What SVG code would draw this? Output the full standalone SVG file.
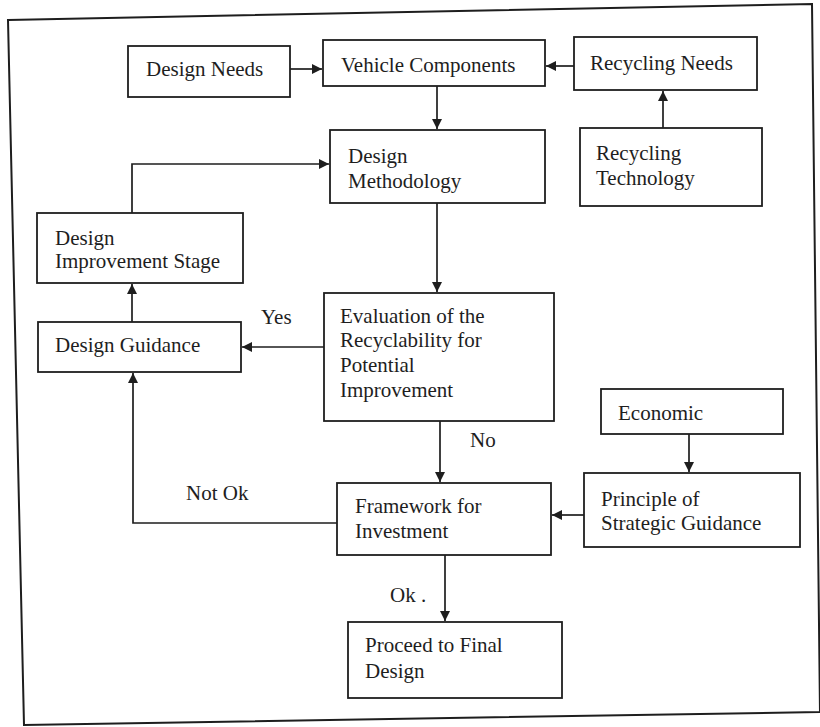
<svg xmlns="http://www.w3.org/2000/svg" width="820" height="727" viewBox="0 0 820 727">
<style>
.box{fill:#fff;stroke:#1e1e1e;stroke-width:1.8}
.t{font-family:"Liberation Serif","Times New Roman",serif;font-size:21px;fill:#1e1e1e}
.c{fill:none;stroke:#1e1e1e;stroke-width:1.7}
.frame{fill:none;stroke:#1e1e1e;stroke-width:2}
</style>
<defs>
<marker id="ah" viewBox="0 0 10 10" refX="10" refY="5" markerWidth="11" markerHeight="10" markerUnits="userSpaceOnUse" orient="auto">
<path d="M0,0 L10,5 L0,10 z" fill="#1e1e1e"/>
</marker>
</defs>
<rect width="820" height="727" fill="#fff"/>
<polygon class="frame" points="8,20 812,4 820,712 24,725"/>

<g id="connectors">
<line class="c" x1="290" y1="69" x2="322" y2="69" marker-end="url(#ah)"/>
<line class="c" x1="574" y1="66" x2="546" y2="66" marker-end="url(#ah)"/>
<line class="c" x1="437" y1="86" x2="437" y2="129" marker-end="url(#ah)"/>
<line class="c" x1="663" y1="128" x2="663" y2="91" marker-end="url(#ah)"/>
<polyline class="c" points="132,213 132,164 329,164" marker-end="url(#ah)"/>
<line class="c" x1="437" y1="203" x2="437" y2="292" marker-end="url(#ah)"/>
<line class="c" x1="324" y1="347" x2="242" y2="347" marker-end="url(#ah)"/>
<line class="c" x1="132" y1="322" x2="132" y2="284" marker-end="url(#ah)"/>
<line class="c" x1="440" y1="421" x2="440" y2="482" marker-end="url(#ah)"/>
<line class="c" x1="689" y1="434" x2="689" y2="472" marker-end="url(#ah)"/>
<line class="c" x1="584" y1="515" x2="552" y2="515" marker-end="url(#ah)"/>
<polyline class="c" points="337,523 133,523 133,373" marker-end="url(#ah)"/>
<line class="c" x1="445" y1="555" x2="445" y2="621" marker-end="url(#ah)"/>
<text class="t" x="261" y="324">Yes</text>
<text class="t" x="470" y="447">No</text>
<text class="t" x="186" y="500">Not Ok</text>
<text class="t" x="390" y="602">Ok  .</text>
</g>

<g id="design-needs">
<rect class="box" x="128" y="46" width="162" height="51"/>
<text class="t" x="146" y="76">Design Needs</text>
</g>
<g id="vehicle-components">
<rect class="box" x="323" y="40" width="222" height="46"/>
<text class="t" x="341" y="72">Vehicle Components</text>
</g>
<g id="recycling-needs">
<rect class="box" x="574" y="37" width="183" height="53"/>
<text class="t" x="590" y="70">Recycling Needs</text>
</g>
<g id="design-methodology">
<rect class="box" x="330" y="130" width="215" height="73"/>
<text class="t" x="348" y="163">Design</text>
<text class="t" x="348" y="188">Methodology</text>
</g>
<g id="recycling-technology">
<rect class="box" x="580" y="128" width="182" height="78"/>
<text class="t" x="596" y="160">Recycling</text>
<text class="t" x="596" y="185">Technology</text>
</g>
<g id="design-improvement-stage">
<rect class="box" x="37" y="213" width="206" height="70"/>
<text class="t" x="55" y="245">Design</text>
<text class="t" x="55" y="268">Improvement Stage</text>
</g>
<g id="design-guidance">
<rect class="box" x="38" y="322" width="203" height="50"/>
<text class="t" x="55" y="352">Design Guidance</text>
</g>
<g id="evaluation">
<rect class="box" x="324" y="293" width="230" height="128"/>
<text class="t" x="340" y="323">Evaluation of the</text>
<text class="t" x="340" y="347">Recyclability for</text>
<text class="t" x="340" y="372">Potential</text>
<text class="t" x="340" y="397">Improvement</text>
</g>
<g id="economic">
<rect class="box" x="601" y="389" width="182" height="45"/>
<text class="t" x="618" y="420">Economic</text>
</g>
<g id="principle-strategic-guidance">
<rect class="box" x="584" y="473" width="216" height="74"/>
<text class="t" x="601" y="506">Principle of</text>
<text class="t" x="601" y="530">Strategic Guidance</text>
</g>
<g id="framework-investment">
<rect class="box" x="337" y="483" width="214" height="72"/>
<text class="t" x="355" y="513">Framework for</text>
<text class="t" x="355" y="538">Investment</text>
</g>
<g id="proceed-final-design">
<rect class="box" x="348" y="622" width="214" height="76"/>
<text class="t" x="365" y="652">Proceed to Final</text>
<text class="t" x="365" y="678">Design</text>
</g>
</svg>
